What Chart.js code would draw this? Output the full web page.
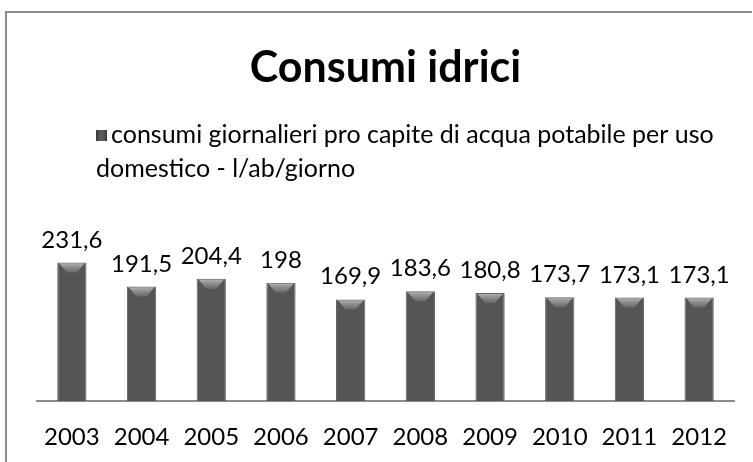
<!DOCTYPE html>
<html>
<head>
<meta charset="utf-8">
<script src="https://cdn.jsdelivr.net/npm/chart.js@4.4.1/dist/chart.umd.min.js"></script>
<style>
  html, body { margin: 0; padding: 0; background: #fff; }
  #wrap { width: 753px; height: 462px; }
</style>
</head>
<body>
<div id="wrap"><canvas id="myChart" width="753" height="462"></canvas></div>
<script>
const years = ['2003', '2004', '2005', '2006', '2007', '2008', '2009', '2010', '2011', '2012'];
const consumi = [231.6, 191.5, 204.4, 198, 169.9, 183.6, 180.8, 173.7, 173.1, 173.1];
const seriesName = 'consumi giornalieri pro capite di acqua potabile per uso domestico - l/ab/giorno';
const chartTitle = 'Consumi idrici';

const FONT = 'Lato, "Open Sans", sans-serif';

function barGradient(ctx, left, right) {
  const g = ctx.createLinearGradient(left, 0, right, 0);
  g.addColorStop(0, '#333333');
  g.addColorStop(0.18, '#4f4f4f');
  g.addColorStop(0.5, '#5e5e5e');
  g.addColorStop(0.82, '#4f4f4f');
  g.addColorStop(1, '#333333');
  return g;
}

// white page + grey frame (top and left edge only are visible)
const framePlugin = {
  id: 'frame',
  beforeDraw(chart) {
    const ctx = chart.ctx;
    ctx.save();
    ctx.fillStyle = '#fff';
    ctx.fillRect(0, 0, chart.width, chart.height);
    ctx.strokeStyle = '#8c8c8c';
    ctx.lineWidth = 2;
    ctx.beginPath();
    ctx.moveTo(6, chart.height);
    ctx.lineTo(6, 12);
    ctx.lineTo(752, 12);
    ctx.stroke();
    ctx.restore();
  }
};

// legend with wrapping text
const legendPlugin = {
  id: 'wrapLegend',
  afterDraw(chart) {
    const ctx = chart.ctx;
    const label = chart.data.datasets[0].label;
    ctx.save();
    ctx.font = '25px ' + FONT;
    ctx.fillStyle = '#000';
    ctx.textBaseline = 'alphabetic';
    const maxW = 620;
    const words = label.split(' ');
    const lines = [];
    let cur = '';
    words.forEach((w) => {
      const test = cur ? cur + ' ' + w : w;
      if (ctx.measureText(test).width > maxW && cur) {
        lines.push(cur);
        cur = w;
      } else {
        cur = test;
      }
    });
    if (cur) lines.push(cur);
    const x0 = 96, y0 = 143, lh = 34;
    // marker
    ctx.fillStyle = barGradient(ctx, x0, x0 + 11);
    ctx.fillRect(x0, y0 - 13, 11, 11);
    ctx.fillStyle = '#000';
    lines.forEach((ln, i) => {
      ctx.fillText(ln, i === 0 ? x0 + 15 : x0, y0 + i * lh);
    });
    ctx.restore();
  }
};

// value labels + top bevel on bars
const barExtras = {
  id: 'barExtras',
  afterDatasetsDraw(chart) {
    const ctx = chart.ctx;
    const meta = chart.getDatasetMeta(0);
    ctx.save();
    meta.data.forEach((bar, i) => {
      const half = bar.width / 2;
      const l = bar.x - half, r = bar.x + half, t = bar.y;
      // bevel
      const bg = ctx.createLinearGradient(0, t, 0, t + 10);
      bg.addColorStop(0, 'rgba(190,190,190,0.95)');
      bg.addColorStop(1, 'rgba(120,120,120,0.6)');
      ctx.fillStyle = bg;
      ctx.beginPath();
      ctx.moveTo(l + 2, t + 1);
      ctx.lineTo(r - 2, t + 1);
      ctx.lineTo(bar.x + 5, t + 10);
      ctx.lineTo(bar.x - 5, t + 10);
      ctx.closePath();
      ctx.fill();
      // value
      ctx.fillStyle = '#000';
      ctx.font = '24px ' + FONT;
      ctx.textAlign = 'center';
      ctx.textBaseline = 'alphabetic';
      const v = chart.data.datasets[0].data[i];
      ctx.fillText(String(v).replace('.', ','), bar.x, t - 15);
    });
    ctx.restore();
  }
};

async function mainEvent() {
  const ctx = document.getElementById('myChart');
  await document.fonts.load('24px Lato');
  await document.fonts.load('bold 43px Lato');

  new Chart(ctx, {
    type: 'bar',
    data: {
      labels: years,
      datasets: [{
        label: seriesName,
        data: consumi,
        backgroundColor: (c) => {
          const el = c.element;
          if (!el || el.width === undefined) return '#555';
          return barGradient(c.chart.ctx, el.x - el.width / 2, el.x + el.width / 2);
        },
        borderColor: 'rgba(60,60,60,0.8)',
        borderWidth: 1,
        barPercentage: 0.42,
        categoryPercentage: 1
      }]
    },
    options: {
      responsive: false,
      animation: false,
      layout: {
        padding: { left: 37, right: 19, top: 0, bottom: 0 }
      },
      plugins: {
        legend: { display: false },
        tooltip: { enabled: false },
        title: {
          display: true,
          text: chartTitle,
          color: '#000',
          font: { family: FONT, size: 43, weight: 'bold' },
          padding: { top: 42, bottom: 152 }
        }
      },
      scales: {
        x: {
          grid: { display: false, drawTicks: false },
          border: { display: true, color: '#8c8c8c', width: 2 },
          ticks: {
            color: '#000',
            font: { family: FONT, size: 24 },
            padding: 22
          },
          afterFit: (scale) => { scale.height = 61; }
        },
        y: {
          display: false,
          min: 0,
          max: 260
        }
      }
    },
    plugins: [framePlugin, legendPlugin, barExtras]
  });
}
document.addEventListener('DOMContentLoaded', async () => mainEvent());
</script>
</body>
</html>
